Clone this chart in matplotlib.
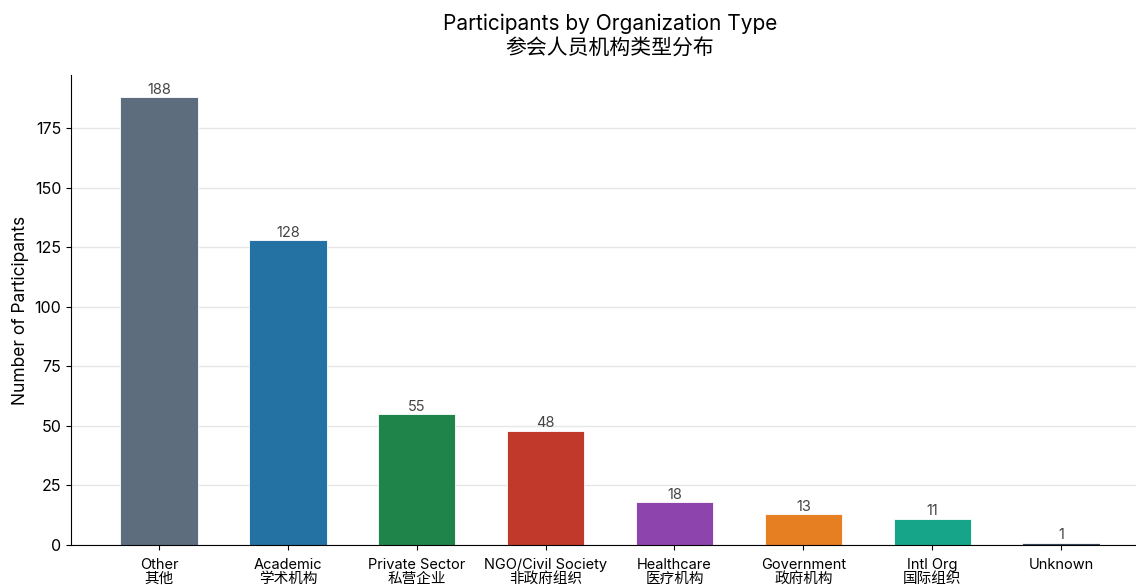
import matplotlib.pyplot as plt

plt.rcParams['font.family'] = ['Inter', 'Noto Sans CJK SC', 'DejaVu Sans']

# participant counts per organization type
org_en = ['Other', 'Academic', 'Private Sector', 'NGO/Civil Society',
          'Healthcare', 'Government', 'Intl Org', 'Unknown']
org_zh = ['其他', '学术机构', '私营企业', '非政府组织',
          '医疗机构', '政府机构', '国际组织', '']
counts = [188, 128, 55, 48, 18, 13, 11, 1]
bar_colors = ['#5d6d7e', '#2471a3', '#1e8449', '#c0392b',
              '#8e44ad', '#e67e22', '#17a589', '#34495e']

labels = [e + ('\n' + z if z else '') for e, z in zip(org_en, org_zh)]

fig = plt.figure(figsize=(11.36, 5.85), dpi=100)
ax = fig.add_axes([0.0625, 0.0684, 0.949, 0.803])

x = range(len(counts))
bars = ax.bar(x, counts, width=0.6, color=bar_colors, edgecolor='white', linewidth=0.6, zorder=2)
for b, v in zip(bars, counts):
    ax.text(b.get_x() + b.get_width() / 2, v + 0.2, str(v), ha='center', va='bottom',
            fontsize=10.5, color='#444444')

ax.set_xticks(list(x))
ax.set_xticklabels(labels, fontsize=10.5, va='top', linespacing=1.0)
ax.tick_params(axis='x', pad=6)
ax.set_xlim(-0.683, len(counts) - 1 + 0.683)
ax.set_ylim(0, 197.3)
ax.set_yticks([0, 25, 50, 75, 100, 125, 150, 175])
ax.tick_params(axis='y', labelsize=11.5)
ax.set_ylabel('Number of Participants', fontsize=12.5, labelpad=4)
ax.set_title('Participants by Organization Type\n参会人员机构类型分布', fontsize=15, pad=15,
             linespacing=1.3)

ax.grid(axis='y', color='#e6e6e6', linewidth=1, zorder=0)
ax.set_axisbelow(True)
ax.spines['top'].set_visible(False)
ax.spines['right'].set_visible(False)

fig.savefig('out.png', dpi=100)
